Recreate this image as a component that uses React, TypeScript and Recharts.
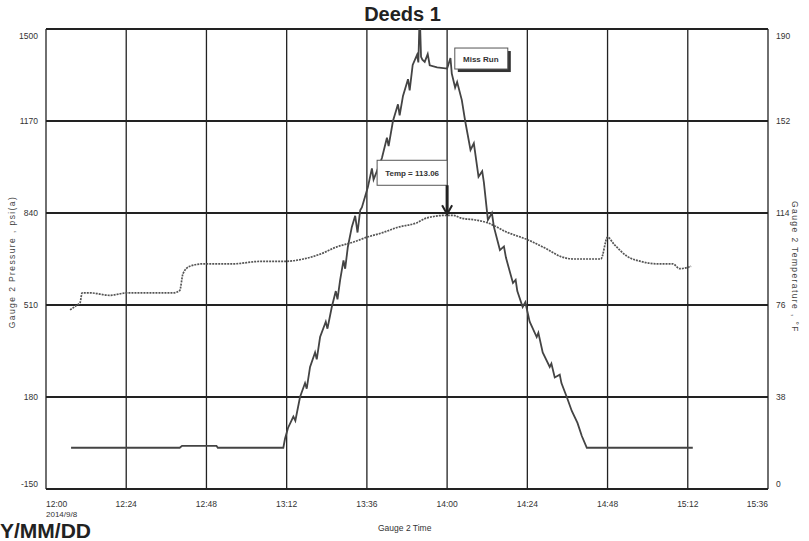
import { LineChart, Line, XAxis, YAxis, CartesianGrid, ReferenceDot } from 'recharts'

const xTicks = [0, 24, 48, 72, 96, 120, 144, 168, 192, 216]
const pTicks = [-150, 180, 510, 840, 1170, 1500]
const tTicks = [0, 38, 76, 114, 152, 190]

// Gauge 2 pressure, minutes after 12:00
const pMin = [7.5, 40, 40.7, 51, 51.4, 71, 71.5, 72.4, 74, 74.6, 76, 77.5, 78, 79, 80.5, 81, 82, 83.7, 84.2, 85.5, 86.7, 87.2, 88, 89, 89.5, 90.3, 91.5, 92.5, 93.2, 94, 94.5, 96.3, 97.5, 98, 99, 100.5, 102, 102.5, 103.8, 105.3, 105.8, 106.8, 108.3, 108.8, 109.7, 111, 111.4, 111.8, 112.2, 112.6, 113.3, 114.2, 114.8, 117, 120, 121, 121.4, 122.4, 123, 124.4, 125.4, 127, 128, 129.4, 130.5, 131, 132.2, 133.4, 134, 135.8, 137, 137.6, 139.7, 140.5, 141, 142.6, 143.4, 144.7, 146.8, 147.3, 148.6, 150.7, 151.2, 152.2, 153.7, 154.2, 155.8, 157.3, 159, 160.3, 161.8, 193.5]
const pVal = [-2, -2, 5, 5, -2, -2, 30, 69, 110, 95, 180, 230, 210, 288, 340, 315, 395, 450, 425, 503, 560, 530, 600, 670, 640, 718, 790, 830, 770, 850, 860, 933, 1000, 960, 990, 1037, 1110, 1080, 1170, 1230, 1190, 1260, 1320, 1280, 1371, 1407, 1380, 1560, 1400, 1390, 1382, 1410, 1370, 1362, 1358, 1396, 1340, 1290, 1310, 1245, 1170, 1066, 1090, 970, 990, 950, 815, 840, 790, 707, 720, 680, 589, 600, 560, 503, 520, 450, 395, 410, 340, 288, 300, 250, 260, 230, 180, 130, 87, 40, -2, -2]

// Gauge 2 temperature, minutes after 12:00
const tMin = [7.2, 9.3, 10.2, 10.8, 13.2, 19.1, 24.2, 38, 40, 41, 43, 47, 56, 64, 71, 77, 82, 87, 92, 96, 101, 105, 111, 114, 120, 122, 124, 129, 132, 138, 144, 150, 154, 158, 166, 168, 170, 174, 178, 183, 187.5, 189.6, 193]
const tVal = [74, 76, 77, 81, 81, 80, 81, 81, 82, 89, 92, 93, 93, 94, 94, 95, 97, 100, 102, 104, 106, 108, 110, 112, 113.06, 113, 112, 111, 110, 106, 103, 99, 96, 95, 95, 104, 101, 96, 94, 93, 93, 91, 92]

const pressure = pMin.map((t, i) => ({ t, v: pVal[i] }))
const temperature = tMin.map((t, i) => ({ t, v: tVal[i] }))

const font = '"Liberation Sans", Arial, sans-serif'
const fmt = (m: number) => `${12 + Math.floor(m / 60)}:${String(m % 60).padStart(2, '0')}`

const XTick = ({ x, y, payload, index }: any) => {
  const anchor = index === 0 ? 'start' : index === xTicks.length - 1 ? 'end' : 'middle'
  return <g>
    <text x={x} y={y + 10} textAnchor={anchor} fontSize={8.5} fill="#333" fontFamily={font}>{fmt(payload.value)}</text>
    {index === 0 && <text x={x} y={y + 20} textAnchor="start" fontSize={8} fill="#333" fontFamily={font}>2014/9/8</text>}
  </g>
}

const YTick = (side: 'left' | 'right', ticks: number[]) => ({ x, y, payload }: any) => {
  const dy = payload.value === ticks[ticks.length - 1] ? 10 : payload.value === ticks[0] ? -2 : 3
  return <text x={x} y={y + dy} textAnchor={side === 'left' ? 'end' : 'start'} fontSize={8.5} fill="#333" fontFamily={font}>{payload.value}</text>
}

const TempNote = ({ cx, cy }: any) => <g>
  <rect x={cx - 70} y={cy - 55} width={70} height={25} fill="#fff" stroke="#555" strokeWidth={1} />
  <text x={cx - 35} y={cy - 39} textAnchor="middle" fontSize={8} fontWeight="bold" fill="#333" fontFamily={font}>Temp = 113.06</text>
  <line x1={cx} y1={cy - 30} x2={cx} y2={cy - 2} stroke="#222" strokeWidth={3} />
  <polyline points={`${cx - 5},${cy - 10} ${cx},${cy - 1} ${cx + 5},${cy - 10}`} fill="none" stroke="#222" strokeWidth={2} />
</g>

const MissNote = ({ cx, cy }: any) => <g>
  <rect x={cx + 4} y={cy - 17} width={53} height={21} fill="#333" />
  <rect x={cx + 1} y={cy - 20} width={53} height={21} fill="#fff" stroke="#555" strokeWidth={1} />
  <text x={cx + 27} y={cy - 6} textAnchor="middle" fontSize={8} fontWeight="bold" fill="#333" fontFamily={font}>Miss Run</text>
</g>

export default function App() {
  return (
    <div style={{ position: 'absolute', left: 0, top: 0, width: 809, height: 541, background: '#fff', fontFamily: font, overflow: 'hidden' }}>
      <div style={{ position: 'absolute', left: 0, width: 809, top: 3, textAlign: 'center', fontSize: 20, fontWeight: 'bold', color: '#222' }}>
        <span style={{ position: 'relative', left: -2 }}>Deeds 1</span>
      </div>
      <LineChart width={809} height={541} margin={{ top: 29, right: 6, bottom: 22, left: 6 }}>
        <CartesianGrid yAxisId="left" horizontal={true} vertical={false} stroke="#222" strokeWidth={2} />
        <CartesianGrid yAxisId="left" horizontal={false} vertical={true} stroke="#222" strokeWidth={1.3} />
        <XAxis dataKey="t" type="number" domain={[0, 216]} ticks={xTicks} tick={<XTick />} tickLine={false} axisLine={false} height={30} interval={0} />
        <YAxis yAxisId="left" domain={[-150, 1500]} ticks={pTicks} allowDataOverflow tick={YTick('left', pTicks)} tickLine={false} axisLine={false} width={40} interval={0}
          label={{ content: () => <text transform="translate(15,262) rotate(-90)" textAnchor="middle" fontSize={8.5} letterSpacing={1.4} fill="#444" fontFamily={font}>Gauge 2 Pressure , psi(a)</text> }} />
        <YAxis yAxisId="right" orientation="right" domain={[0, 190]} ticks={tTicks} allowDataOverflow tick={YTick('right', tTicks)} tickLine={false} axisLine={false} width={35} interval={0}
          label={{ content: () => <text transform="translate(792,267) rotate(90)" textAnchor="middle" fontSize={8.5} letterSpacing={1.4} fill="#444" fontFamily={font}>Gauge 2 Temperature , °F</text> }} />
        <Line yAxisId="right" data={temperature} dataKey="v" type="monotone" stroke="#555" strokeWidth={1.7} strokeDasharray="2 1" dot={false} isAnimationActive={false} />
        <Line yAxisId="left" data={pressure} dataKey="v" type="linear" stroke="#444" strokeWidth={1.8} dot={false} isAnimationActive={false} />
        <ReferenceDot yAxisId="right" x={120} y={113.06} shape={<TempNote />} />
        <ReferenceDot yAxisId="left" x={122} y={1360} shape={<MissNote />} />
      </LineChart>
      <div style={{ position: 'absolute', left: 378, top: 523, fontSize: 8.5, color: '#333' }}>Gauge 2 Time</div>
      <div style={{ position: 'absolute', left: 0, top: 521, fontSize: 21, lineHeight: '20px', fontWeight: 'bold', color: '#222' }}>Y/MM/DD</div>
    </div>
  )
}
